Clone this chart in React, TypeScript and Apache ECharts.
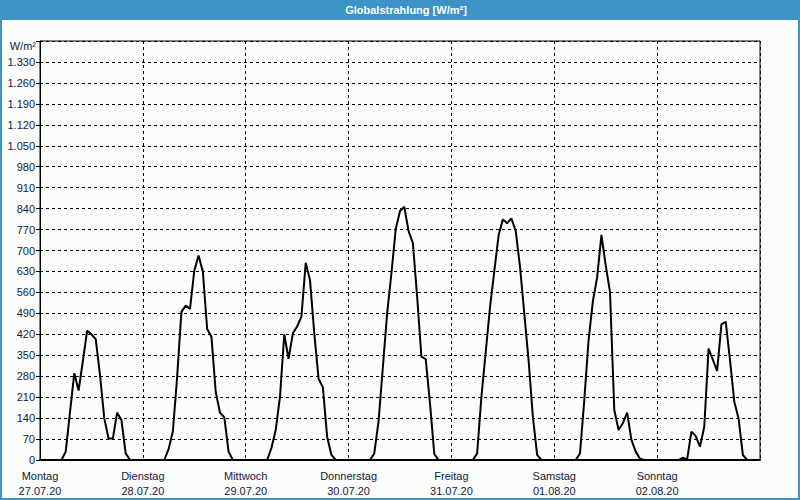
import React, { useEffect, useRef } from "react";
import * as echarts from "echarts";

// Hourly global radiation values (W/m²), one array per day, hours 0..23
const montag = [0, 0, 0, 0, 0, 0, 28, 160, 290, 232, 330, 432, 420, 404, 284, 139, 72, 72, 158, 134, 22, 0, 0, 0];
const dienstag = [0, 0, 0, 0, 0, 0, 36, 95, 278, 495, 516, 505, 632, 683, 629, 438, 412, 228, 158, 143, 28, 0, 0, 0];
const mittwoch = [0, 0, 0, 0, 0, 0, 40, 100, 212, 420, 338, 423, 446, 479, 659, 601, 423, 271, 243, 78, 17, 0, 0, 0];
const donnerstag = [0, 0, 0, 0, 0, 0, 22, 130, 310, 490, 624, 771, 832, 846, 765, 725, 546, 345, 337, 189, 20, 0, 0, 0];
const freitag = [0, 0, 0, 0, 0, 0, 22, 212, 360, 510, 630, 750, 804, 791, 807, 765, 646, 490, 334, 145, 17, 0, 0, 0];
const samstag = [0, 0, 0, 0, 0, 0, 22, 200, 400, 530, 610, 752, 650, 562, 167, 100, 123, 158, 67, 28, 4, 0, 0, 0];
const sonntag = [0, 0, 0, 0, 0, 0, 8, 2, 95, 80, 45, 111, 372, 335, 298, 453, 462, 334, 195, 139, 17, 0, 0, 0];

const dayNames = ["Montag", "Dienstag", "Mittwoch", "Donnerstag", "Freitag", "Samstag", "Sonntag"];
const dayDates = ["27.07.20", "28.07.20", "29.07.20", "30.07.20", "31.07.20", "01.08.20", "02.08.20"];

const TITLE = "Globalstrahlung [W/m²]";
const UNIT = "W/m²";

const TEXT_COLOR = "#14203c";
const FONT = "'Liberation Sans', Arial, sans-serif";

function fmtDe(v: number): string {
  if (v >= 1000) {
    const t = Math.floor(v / 1000);
    const r = String(v % 1000).padStart(3, "0");
    return t + "." + r;
  }
  return String(v);
}

export default function App() {
  const ref = useRef<HTMLDivElement>(null);

  useEffect(() => {
    document.body.style.margin = "0";
    if (!ref.current) return;
    const chart = echarts.init(ref.current, undefined, { renderer: "svg" });

    const all = [montag, dienstag, mittwoch, donnerstag, freitag, samstag, sonntag].flat();
    const data = all.map((v, i) => [i, v]);

    chart.setOption({
      animation: false,
      backgroundColor: "#fbfdfb",
      grid: {
        left: 40,
        right: 40,
        top: 41,
        bottom: 40,
        containLabel: false,
        outerBoundsMode: "none",
        show: true,
        borderColor: "#000",
        borderWidth: 1,
        backgroundColor: "transparent",
      },
      xAxis: {
        type: "value",
        min: 0,
        max: 168,
        interval: 24,
        axisLine: { show: true, onZero: false, lineStyle: { color: "#000", width: 2 } },
        axisTick: { show: false },
        splitLine: { show: true, lineStyle: { color: "#000", type: [3, 3], width: 1 } },
        axisLabel: {
          margin: 8,
          color: TEXT_COLOR,
          fontFamily: FONT,
          fontSize: 11,
          lineHeight: 15,
          formatter: (v: number) => {
            const i = Math.round(v / 24);
            if (i >= 7) return "";
            return dayNames[i] + "\n" + dayDates[i];
          },
        },
      },
      yAxis: {
        type: "value",
        min: 0,
        max: 1400,
        interval: 70,
        axisLine: { show: true, lineStyle: { color: "#000", width: 1 } },
        axisTick: { show: true, length: 4, lineStyle: { color: "#000" } },
        splitLine: { show: true, lineStyle: { color: "#000", type: [3, 3], width: 1 } },
        axisLabel: {
          margin: 5,
          color: TEXT_COLOR,
          fontFamily: FONT,
          fontSize: 11,
          formatter: (v: number) => (v >= 1400 ? "" : fmtDe(v)),
        },
      },
      series: [
        {
          type: "line",
          data,
          showSymbol: false,
          symbol: "none",
          lineStyle: { color: "#000", width: 2 },
          itemStyle: { color: "#000" },
          z: 5,
        },
      ],
      graphic: [
        { type: "rect", shape: { x: 0, y: 0, width: 800, height: 20 }, style: { fill: "#3c93c5" }, silent: true },
        { type: "rect", shape: { x: 0, y: 0, width: 2, height: 500 }, style: { fill: "#3c93c5" }, silent: true },
        { type: "rect", shape: { x: 798, y: 0, width: 2, height: 500 }, style: { fill: "#3c93c5" }, silent: true },
        { type: "rect", shape: { x: 0, y: 498, width: 800, height: 2 }, style: { fill: "#3c93c5" }, silent: true },
        {
          type: "text",
          x: 406,
          y: 10,
          style: {
            text: TITLE,
            fill: "#ffffff",
            font: "bold 11px " + FONT,
            align: "center",
            verticalAlign: "middle",
          },
          silent: true,
        },
        {
          type: "text",
          x: 36,
          y: 46,
          style: {
            text: UNIT,
            fill: TEXT_COLOR,
            font: "11px " + FONT,
            align: "right",
            verticalAlign: "middle",
          },
          silent: true,
        },
      ],
    });

    return () => chart.dispose();
  }, []);

  return <div ref={ref} style={{ width: 800, height: 500 }} />;
}
